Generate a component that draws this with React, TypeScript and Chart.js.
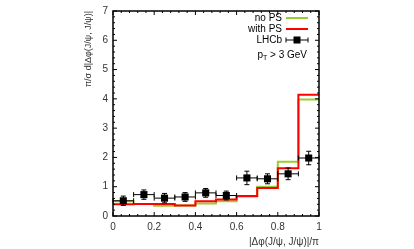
import { useEffect, useRef } from "react";
import { Chart, registerables } from "chart.js";

Chart.register(...registerables);

// ---- data ----
const binEdges = [0, 0.1, 0.2, 0.3, 0.4, 0.5, 0.6, 0.7, 0.8, 0.9, 1.0];
const noPS = [0.5, 0.41, 0.35, 0.36, 0.43, 0.5, 0.67, 1.0, 1.85, 3.98];
const withPS = [0.4, 0.41, 0.41, 0.36, 0.5, 0.56, 0.68, 0.96, 1.63, 4.14];
const lhcbX = [0.05, 0.15, 0.25, 0.35, 0.45, 0.55, 0.65, 0.75, 0.85, 0.95];
const lhcbY = [0.52, 0.73, 0.61, 0.65, 0.79, 0.7, 1.3, 1.27, 1.44, 1.98];
const lhcbYErr = [0.16, 0.16, 0.16, 0.15, 0.15, 0.15, 0.23, 0.17, 0.2, 0.23];
const lhcbXErr = [0.05, 0.05, 0.05, 0.05, 0.05, 0.05, 0.05, 0.05, 0.05, 0.05];
const seriesLabels = ["no PS", "with PS", "LHCb"];
const cutLabel = ["p", "T", " > 3 GeV"];
const xTitle = "|Δφ(J/ψ, J/ψ)|/π";
const yTitle = "π/σ d|Δφ(J/ψ, J/ψ)|";

const GREEN = "#9acd32";
const RED = "#ff0000";
const FONT = "'Liberation Sans', Arial, sans-serif";

function histPoints(vals: number[]) {
  const pts = vals.map((v, i) => ({ x: binEdges[i], y: v }));
  pts.push({ x: binEdges[binEdges.length - 1], y: vals[vals.length - 1] });
  return pts;
}

const framePlugin = {
  id: "frameTicks",
  afterDatasetsDraw(chart: any) {
    const ctx = chart.ctx;
    const xs = chart.scales.x;
    const ys = chart.scales.y;
    const { left, right, top, bottom } = chart.chartArea;
    ctx.save();
    // error bars
    ctx.strokeStyle = "#000";
    ctx.lineWidth = 1;
    lhcbX.forEach((xv, i) => {
      const px = xs.getPixelForValue(xv);
      const py = ys.getPixelForValue(lhcbY[i]);
      const x0 = xs.getPixelForValue(xv - lhcbXErr[i]);
      const x1 = xs.getPixelForValue(xv + lhcbXErr[i]);
      const y0 = ys.getPixelForValue(lhcbY[i] - lhcbYErr[i]);
      const y1 = ys.getPixelForValue(lhcbY[i] + lhcbYErr[i]);
      const c = 2.5;
      ctx.beginPath();
      ctx.moveTo(x0, py); ctx.lineTo(x1, py);
      ctx.moveTo(x0, py - c); ctx.lineTo(x0, py + c);
      ctx.moveTo(x1, py - c); ctx.lineTo(x1, py + c);
      ctx.moveTo(px, y0); ctx.lineTo(px, y1);
      ctx.moveTo(px - c, y0); ctx.lineTo(px + c, y0);
      ctx.moveTo(px - c, y1); ctx.lineTo(px + c, y1);
      ctx.stroke();
    });
    // frame
    ctx.lineWidth = 1.5;
    ctx.strokeRect(left, top, right - left, bottom - top);
    ctx.lineWidth = 1;
    ctx.beginPath();
    // y ticks
    for (let k = 0; k <= 35; k++) {
      const v = k * 0.2;
      const py = ys.getPixelForValue(v);
      const len = k % 5 === 0 ? 4 : 2;
      ctx.moveTo(left, py); ctx.lineTo(left + len, py);
      ctx.moveTo(right, py); ctx.lineTo(right - len, py);
    }
    // x ticks
    for (let k = 0; k <= 25; k++) {
      const v = k * 0.04;
      const px = xs.getPixelForValue(v);
      const len = k % 5 === 0 ? 4 : 2;
      ctx.moveTo(px, bottom); ctx.lineTo(px, bottom - len);
      ctx.moveTo(px, top); ctx.lineTo(px, top + len);
    }
    ctx.stroke();

    // legend
    ctx.font = `10px ${FONT}`;
    ctx.fillStyle = "#000";
    ctx.textAlign = "right";
    ctx.textBaseline = "middle";
    const tx = 282;
    const lx0 = 286;
    const lx1 = 308;
    const rows = [18, 29, 40];
    ctx.fillText(seriesLabels[0], tx, rows[0]);
    ctx.fillText(seriesLabels[1], tx, rows[1]);
    ctx.fillText(seriesLabels[2], tx, rows[2]);
    ctx.lineWidth = 2;
    ctx.strokeStyle = GREEN;
    ctx.beginPath(); ctx.moveTo(lx0, rows[0]); ctx.lineTo(lx1, rows[0]); ctx.stroke();
    ctx.strokeStyle = RED;
    ctx.beginPath(); ctx.moveTo(lx0, rows[1]); ctx.lineTo(lx1, rows[1]); ctx.stroke();
    ctx.strokeStyle = "#000";
    ctx.lineWidth = 1;
    ctx.beginPath();
    ctx.moveTo(lx0, rows[2]); ctx.lineTo(lx1, rows[2]);
    ctx.moveTo(lx0, rows[2] - 2.5); ctx.lineTo(lx0, rows[2] + 2.5);
    ctx.moveTo(lx1, rows[2] - 2.5); ctx.lineTo(lx1, rows[2] + 2.5);
    ctx.stroke();
    ctx.fillRect((lx0 + lx1) / 2 - 3.5, rows[2] - 3.5, 7, 7);

    // cut label p_T > 3 GeV
    const cy = 55;
    ctx.font = `10px ${FONT}`;
    const w3 = ctx.measureText(cutLabel[2]).width;
    ctx.font = `7px ${FONT}`;
    const w2 = ctx.measureText(cutLabel[1]).width;
    ctx.font = `10px ${FONT}`;
    const w1 = ctx.measureText(cutLabel[0]).width;
    const endX = 307;
    ctx.textAlign = "left";
    let x = endX - w1 - w2 - w3;
    ctx.fillText(cutLabel[0], x, cy);
    x += w1;
    ctx.font = `7px ${FONT}`;
    ctx.fillText(cutLabel[1], x, cy + 3);
    x += w2;
    ctx.font = `10px ${FONT}`;
    ctx.fillText(cutLabel[2], x, cy);
    ctx.restore();
  },
};

export default function App() {
  const ref = useRef<HTMLCanvasElement | null>(null);
  useEffect(() => {
    if (!ref.current) return;
    const chart = new Chart(ref.current, {
      type: "line",
      data: {
        datasets: [
          {
            label: seriesLabels[2],
            data: lhcbX.map((x, i) => ({ x, y: lhcbY[i] })),
            showLine: false,
            pointStyle: "rect",
            pointRadius: 5,
            backgroundColor: "#000",
            borderColor: "#000",
            borderWidth: 0,
          },
          {
            label: seriesLabels[1],
            data: histPoints(withPS),
            stepped: "before",
            borderColor: RED,
            borderWidth: 2,
            pointRadius: 0,
            fill: false,
          },
          {
            label: seriesLabels[0],
            data: histPoints(noPS),
            stepped: "before",
            borderColor: GREEN,
            borderWidth: 2,
            pointRadius: 0,
            fill: false,
          },
        ],
      },
      options: {
        responsive: false,
        animation: false,
        layout: { padding: { left: 80, right: 95, top: 11, bottom: 0 } },
        plugins: { legend: { display: false }, tooltip: { enabled: false } },
        scales: {
          x: {
            type: "linear",
            min: 0,
            max: 1,
            grid: { display: false, drawTicks: false },
            border: { display: false },
            ticks: {
              stepSize: 0.2,
              padding: 5,
              color: "#333",
              font: { size: 10, family: FONT },
              callback: (v: any) => String(Math.round(Number(v) * 10) / 10),
            },
            title: {
              display: true,
              text: xTitle,
              align: "end",
              color: "#333",
              font: { size: 10, family: FONT },
              padding: { top: 0, bottom: 1 },
            },
            afterFit: (s: any) => { s.height = 33; },
          },
          y: {
            type: "linear",
            min: 0,
            max: 7,
            grid: { display: false, drawTicks: false },
            border: { display: false },
            ticks: {
              stepSize: 1,
              padding: 5,
              color: "#333",
              font: { size: 10, family: FONT },
            },
            title: {
              display: true,
              text: yTitle,
              align: "end",
              color: "#333",
              font: { size: 9, family: FONT },
              padding: { top: 3, bottom: 0 },
            },
            afterFit: (s: any) => { s.width = 33; },
          },
        },
      },
      plugins: [framePlugin],
    });
    return () => chart.destroy();
  }, []);
  return (
    <div style={{ position: "absolute", left: 0, top: 0, width: 414, height: 249, background: "#fff" }}>
      <canvas ref={ref} width={414} height={249} style={{ width: 414, height: 249 }} />
    </div>
  );
}
